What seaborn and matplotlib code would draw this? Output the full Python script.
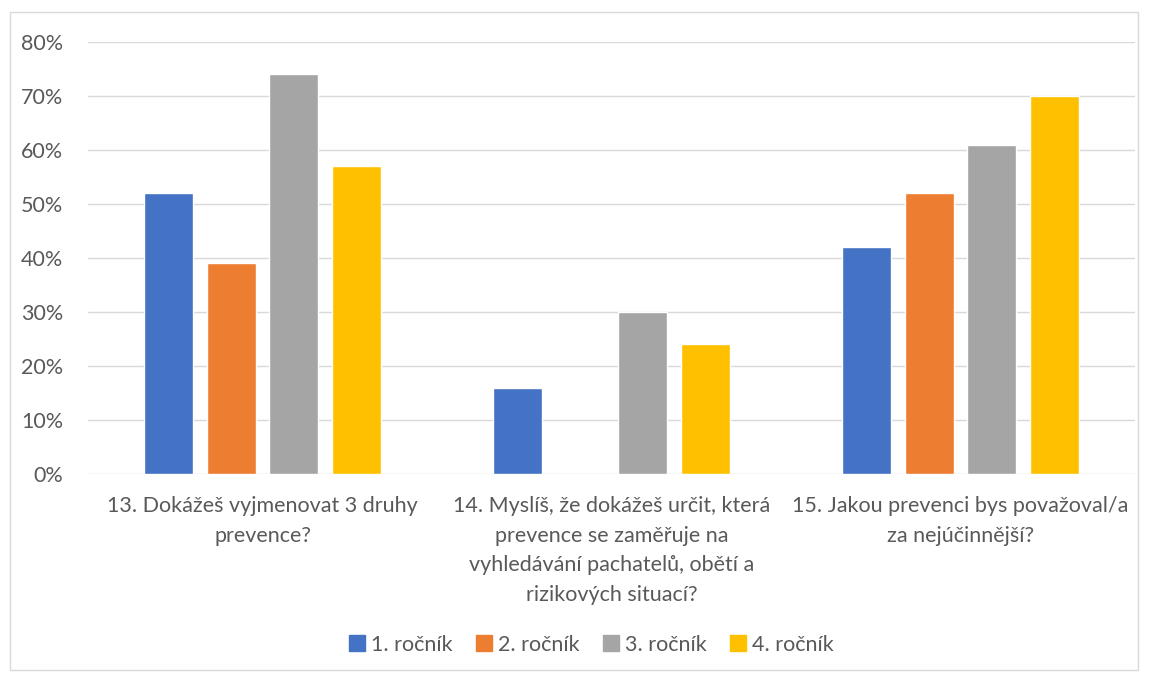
import matplotlib
matplotlib.use("Agg")
import matplotlib.pyplot as plt
import seaborn as sns
import pandas as pd
from matplotlib.patches import Rectangle
from matplotlib.lines import Line2D

categories = [
    "13. Dokážeš vyjmenovat 3 druhy\nprevence?",
    "14. Myslíš, že dokážeš určit, která\nprevence se zaměřuje na\nvyhledávání pachatelů, obětí a\nrizikových situací?",
    "15. Jakou prevenci bys považoval/a\nza nejúčinnější?",
]
series = ["1. ročník", "2. ročník", "3. ročník", "4. ročník"]
values_1 = [52, 16, 42]
values_2 = [39, 0, 52]
values_3 = [74, 30, 61]
values_4 = [57, 24, 70]
colors = ["#4472C4", "#ED7D31", "#A5A5A5", "#FFC000"]
yticks = [0, 10, 20, 30, 40, 50, 60, 70, 80]

rows = []
for s, vals in zip(series, [values_1, values_2, values_3, values_4]):
    for c, v in zip(categories, vals):
        rows.append({"cat": c, "series": s, "value": v})
df = pd.DataFrame(rows)

sns.set_style("white")
plt.rcParams["font.family"] = ["Lato", "DejaVu Sans"]
text_color = "#595959"
fs = 15.5

fig = plt.figure(figsize=(11.49, 6.77), dpi=100)
ax = fig.add_axes([88/1149, 1-474/677, (1135-88)/1149, (474-42)/677])
sns.barplot(data=df, x="cat", y="value", hue="series", palette=colors,
            width=0.72, gap=0.22, ax=ax, legend=False, saturation=1)

ax.set_ylim(0, 80)
ax.set_xlim(-0.5, 2.5)
ax.set_yticks(yticks)
ax.set_yticklabels([f"{t}%" for t in yticks])
ax.yaxis.grid(True, color="#D9D9D9", linewidth=1)
ax.set_axisbelow(True)
for sp in ax.spines.values():
    sp.set_visible(False)
ax.tick_params(axis="both", length=0, labelsize=fs, colors=text_color)
ax.tick_params(axis="y", pad=18)
ax.tick_params(axis="x", pad=16)
for lbl in ax.get_xticklabels():
    lbl.set_linespacing(1.6)
ax.set_xlabel("")
ax.set_ylabel("")

handles = [Line2D([0], [0], marker="s", linestyle="", markersize=11,
                  markerfacecolor=c, markeredgecolor=c) for c in colors]
fig.legend(handles, series, loc="center", bbox_to_anchor=(590/1149, 1-645/677),
           ncol=4, frameon=False, fontsize=fs, labelcolor=text_color,
           handletextpad=0.15, columnspacing=0.95, handlelength=1.0)

fig.patches.append(Rectangle((10/1149, 1-670/677), (1138-10)/1149, (670-12)/677,
                             transform=fig.transFigure, fill=False,
                             edgecolor="#D9D9D9", linewidth=1))

fig.savefig("out.png", dpi=100, facecolor="white")
